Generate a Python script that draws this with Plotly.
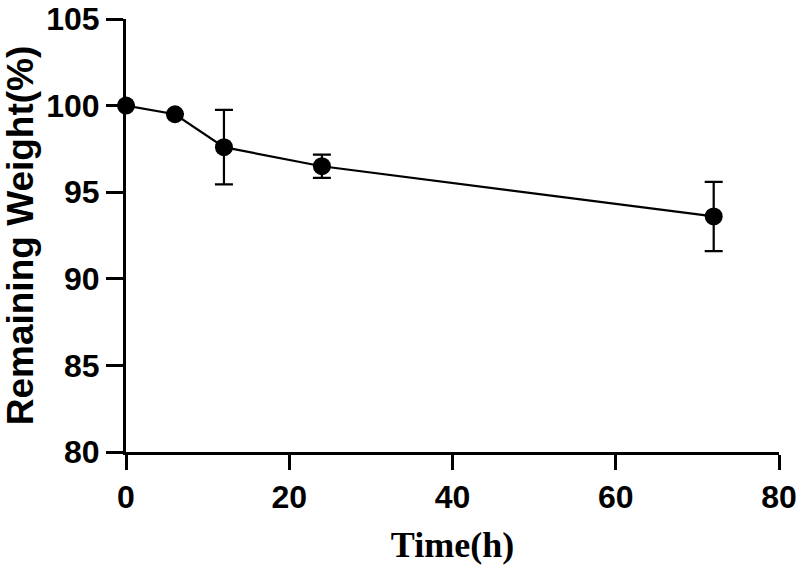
import plotly.graph_objects as go

time_h = [0, 6, 12, 24, 72]
remaining = [100.0, 99.5, 97.6, 96.5, 93.6]
err = [0, 0, 2.15, 0.67, 2.0]

x_ticks = [0, 20, 40, 60, 80]
y_ticks = [80, 85, 90, 95, 100, 105]

fig = go.Figure()
fig.add_trace(go.Scatter(
    x=time_h, y=remaining, mode="lines+markers",
    line=dict(color="black", width=2.2),
    marker=dict(color="black", size=18),
    error_y=dict(type="data", array=err, visible=True, color="black", thickness=2.2, width=9),
    cliponaxis=False, showlegend=False,
))

fig.update_layout(
    width=800, height=568,
    margin=dict(l=126, r=21, t=19, b=116),
    plot_bgcolor="white", paper_bgcolor="white",
    font=dict(family="Liberation Sans", color="black"),
)
fig.update_xaxes(
    range=[0, 80], tickvals=x_ticks, showgrid=False, zeroline=False,
    showline=True, linecolor="black", linewidth=3, automargin=False,
    ticks="outside", ticklen=15, tickwidth=3, tickcolor="black",
    ticklabeloverflow="allow",
    tickfont=dict(family="Liberation Sans", size=32, weight="bold"),
    title=dict(text="Time(h)", font=dict(family="Liberation Serif", size=36, weight="bold"), standoff=18),
)
fig.update_yaxes(
    range=[80, 105], tickvals=y_ticks, showgrid=False, zeroline=False,
    showline=True, linecolor="black", linewidth=3, automargin=False,
    ticks="outside", ticklen=17, tickwidth=3, tickcolor="black",
    ticklabeloverflow="allow",
    tickfont=dict(family="Liberation Sans", size=32, weight="bold"),
    title=dict(text="Remaining Weight(%)", font=dict(family="Liberation Sans", size=37, weight="bold"), standoff=16),
)

# remove the default 8px page margin so the figure fills the window exactly
fig.write_html("out.html", config={"displayModeBar": False},
               post_script="document.body.style.margin='0';")
